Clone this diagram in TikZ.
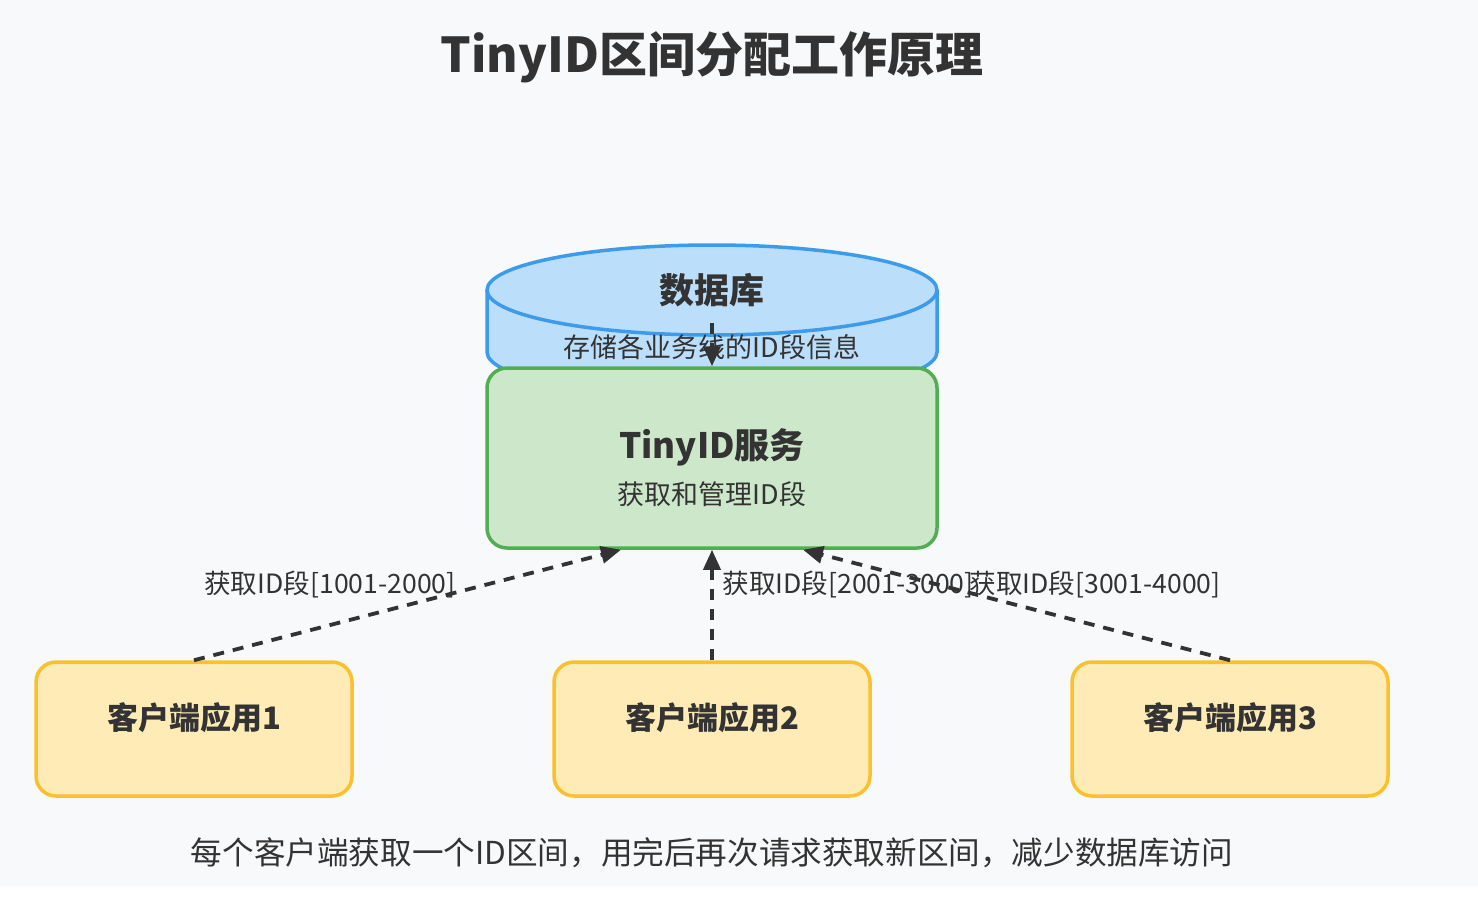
\documentclass[tikz,border=0pt]{standalone}
\usepackage{fontspec}
\setmainfont{Noto Sans CJK SC}
\usetikzlibrary{arrows.meta,calc}
\definecolor{bg}{HTML}{F8F9FA}
\definecolor{txt}{HTML}{333333}
\definecolor{dbfill}{HTML}{BBDEFB}
\definecolor{dbline}{HTML}{3D9BEB}
\definecolor{svcfill}{HTML}{CDE7CB}
\definecolor{svcline}{HTML}{52AE52}
\definecolor{clfill}{HTML}{FFEBB5}
\definecolor{clline}{HTML}{FBC02D}
\tikzset{
  svcbox/.style={draw=svcline, fill=svcfill, line width=3.5pt, rounded corners=20pt,
    minimum width=450pt, minimum height=180pt, inner sep=0pt},
  clbox/.style={draw=clline, fill=clfill, line width=3.5pt, rounded corners=20pt,
    minimum width=316pt, minimum height=134pt, inner sep=0pt},
  headtxt/.style={text=txt, font=\bfseries\fontsize{35}{40}\selectfont, inner sep=0pt},
  subtxt/.style={text=txt, font=\fontsize{27}{32}\selectfont, inner sep=0pt},
  cltxt/.style={text=txt, font=\bfseries\fontsize{31}{36}\selectfont, inner sep=0pt},
  edgetxt/.style={text=txt, font=\fontsize{26.6}{31}\selectfont, inner sep=0pt},
  flow/.style={draw=txt, line width=3.8pt, dash pattern=on 11pt off 9pt,
    -{Triangle[length=20pt,width=17pt]}},
}
\begin{document}
\begin{tikzpicture}[x=1pt,y=-1pt]
\useasboundingbox (0,0) rectangle (1478,898);
\fill[white] (0,0) rectangle (1478,898);
\fill[bg] (0,0) rectangle (1478,886);
% title
\node[text=txt, font=\bfseries\fontsize{48}{56}\selectfont, inner sep=0pt] (title) at (712,57) {TinyID区间分配工作原理};
% database cylinder
\filldraw[draw=dbline, fill=dbfill, line width=3.5pt]
  (487,290) -- (487,352) arc[start angle=180, end angle=0, x radius=225, y radius=45] -- (937,290);
\filldraw[draw=dbline, fill=dbfill, line width=3.5pt] (712,290) ellipse [x radius=225, y radius=45];
\node[headtxt] (db) at (712,290) {数据库};
\coordinate (dbout) at (712,323);
% service box
\node[svcbox] (svc) at (712,458) {};
\node[subtxt] (dbsub) at (712,347) {存储各业务线的ID段信息};
\node[headtxt] (svctitle) at (712,447) {TinyID服务};
\node[subtxt] (svcsub) at (712,494) {获取和管理ID段};
% clients
\node[clbox] (c1) at (194,729) {};
\node[clbox] (c2) at (712,729) {};
\node[clbox] (c3) at (1230,729) {};
\node[cltxt] (c1t) at (194,718) {客户端应用1};
\node[cltxt] (c2t) at (712,718) {客户端应用2};
\node[cltxt] (c3t) at (1230,718) {客户端应用3};
% connectors
\draw[flow] (dbout) -- (svc.north);
\draw[flow] (c1.north) -- ($(svc.south)+(-91,0)$);
\draw[flow] (c2.north) -- (svc.south);
\draw[flow] (c3.north) -- ($(svc.south)+(91,0)$);
% edge labels
\node[edgetxt] (l1) at (330,584) {获取ID段[1001-2000]};
\node[edgetxt] (l2) at (848,584) {获取ID段[2001-3000]};
\node[edgetxt] (l3) at (1095,584) {获取ID段[3001-4000]};
% note
\node[text=txt, font=\fontsize{31.6}{36}\selectfont, inner sep=0pt] (note) at (712,853) {每个客户端获取一个ID区间，用完后再次请求获取新区间，减少数据库访问};
\end{tikzpicture}
\end{document}
